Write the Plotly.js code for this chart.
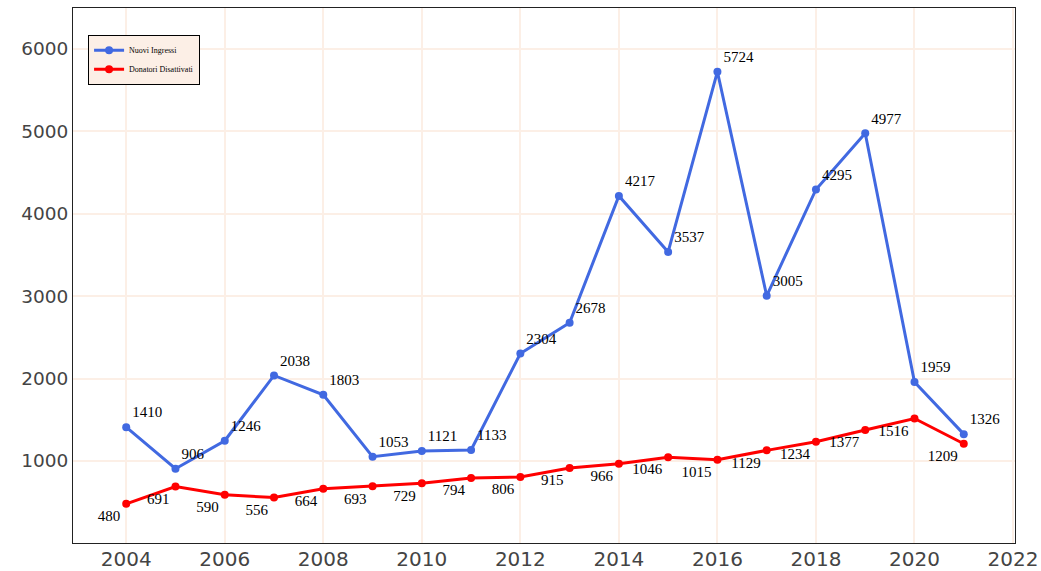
<!DOCTYPE html>
<html>
<head>
<meta charset="utf-8">
<script src="https://cdn.plot.ly/plotly-3.0.1.min.js"></script>
<style>html,body{margin:0;padding:0;background:#fff;}#chart{width:1041px;height:571px;}</style>
</head>
<body>
<div id="chart"></div>
<script>
const years = [2004,2005,2006,2007,2008,2009,2010,2011,2012,2013,2014,2015,2016,2017,2018,2019,2020,2021];
const nuoviIngressi = [1410,906,1246,2038,1803,1053,1121,1133,2304,2678,4217,3537,5724,3005,4295,4977,1959,1326];
const donatoriDisattivati = [480,691,590,556,664,693,729,794,806,915,966,1046,1015,1129,1234,1377,1516,1209];
const seriesNames = ["Nuovi Ingressi","Donatori Disattivati"];

const traces = [
  {x: years, y: nuoviIngressi, name: seriesNames[0], type: 'scatter', mode: 'lines+markers+text',
   line: {color: '#4169E1', width: 3}, marker: {color: '#4169E1', size: 8},
   text: nuoviIngressi.map(String), textposition: 'top right',
   textfont: {family: 'Liberation Serif, Times New Roman, serif', size: 15, color: '#000'}},
  {x: years, y: donatoriDisattivati, name: seriesNames[1], type: 'scatter', mode: 'lines+markers+text',
   line: {color: '#FF0000', width: 3}, marker: {color: '#FF0000', size: 8},
   text: donatoriDisattivati.map(String), textposition: 'bottom left',
   textfont: {family: 'Liberation Serif, Times New Roman, serif', size: 15, color: '#000'}}
];

const layout = {
  width: 1041, height: 571,
  margin: {l: 73, r: 26, t: 8, b: 28},
  paper_bgcolor: '#fff', plot_bgcolor: '#fff',
  showlegend: true,
  legend: {x: 0.016, y: 0.95, xanchor: 'left', yanchor: 'top',
    bgcolor: '#fcefe6', bordercolor: '#000', borderwidth: 1, itemwidth: 30,
    font: {family: 'Liberation Serif, Times New Roman, serif', size: 8, color: '#000'}},
  xaxis: {range: [2002.92, 2022.04], dtick: 2, tick0: 2004, showgrid: true, gridcolor: '#fcefe6', gridwidth: 1.5,
    zeroline: false, showline: true, linecolor: '#222', linewidth: 1, mirror: true, ticks: '',
    ticklabelstandoff: -2,
    tickfont: {family: 'DejaVu Sans, Verdana, sans-serif', size: 20, color: '#444'}},
  yaxis: {range: [5, 6497], dtick: 1000, tick0: 0, showgrid: true, gridcolor: '#fcefe6', gridwidth: 1.5,
    zeroline: false, showline: true, linecolor: '#222', linewidth: 1, mirror: true, ticks: '',
    tickfont: {family: 'DejaVu Sans, Verdana, sans-serif', size: 18.5, color: '#444'}}
};

Plotly.newPlot('chart', traces, layout, {displayModeBar: false});
</script>
</body>
</html>
